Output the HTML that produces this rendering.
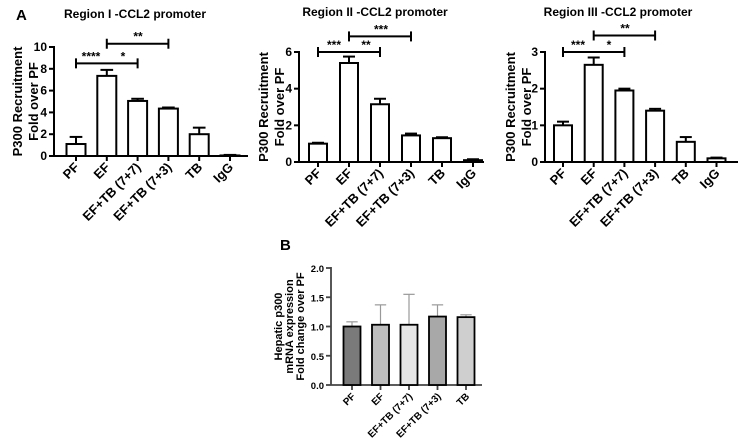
<!DOCTYPE html>
<html><head><meta charset="utf-8">
<style>
body{margin:0;background:#fff;}
svg{display:block;font-family:"Liberation Sans",Arial,sans-serif;font-weight:bold;}
</style></head>
<body>
<svg id="fig" width="743" height="440" viewBox="0 0 743 440"></svg>
<script>
const catsA = ["PF","EF","EF+TB (7+7)","EF+TB (7+3)","TB","IgG"];
const r1Vals = [1.1,7.35,5.05,4.35,2.0,0.05];
const r1Errs = [1.75,7.9,5.25,4.45,2.6,0.1];
const r1Ticks = [0,2,4,6,8,10];
const r2Vals = [1.0,5.4,3.15,1.45,1.3,0.1];
const r2Errs = [1.05,5.75,3.45,1.55,1.35,0.15];
const r2Ticks = [0,2,4,6];
const r3Vals = [1.0,2.65,1.95,1.4,0.55,0.1];
const r3Errs = [1.1,2.85,2.0,1.45,0.68,0.12];
const r3Ticks = [0,1,2,3];
const catsB = ["PF","EF","EF+TB (7+7)","EF+TB (7+3)","TB"];
const bVals = [1.0,1.03,1.03,1.17,1.16];
const bErrs = [1.08,1.37,1.55,1.37,1.2];
const bTicks = ["0.0","0.5","1.0","1.5","2.0"];
const bColors = ["#7a7a7a","#bdbdbd","#e6e6e6","#a8a8a8","#cfcfcf"];

const NS="http://www.w3.org/2000/svg";
const svg=document.getElementById('fig');
function mk(tag,attrs,parent,txt){const e=document.createElementNS(NS,tag);for(const k in attrs)e.setAttribute(k,attrs[k]);if(txt!==undefined)e.textContent=txt;(parent||svg).appendChild(e);return e;}

function panel(o){
  const g=mk('g',{});
  
  
  const y=v=>o.y0-(v-o.tmin)/(o.tmax-o.tmin)*(o.y0-o.y1);
  const x=i=>o.x0+i*o.step;
  const sw=o.sw||2;
  if(o.title){const t=mk('text',{x:o.tx,y:o.ty,'text-anchor':'middle','font-size':12},g,o.title);
    }
  const yt=mk('text',{transform:`translate(${o.ytx},${(o.y0+o.y1)/2}) rotate(-90)`,'text-anchor':'middle','font-size':o.ytfs||13},g);
  
  o.ytitle.forEach((l,i)=>mk('tspan',{x:0,dy:i?o.ytlh:0},yt,l));
  const ax=mk('line',{x1:o.ax,y1:o.y1-1,x2:o.ax,y2:o.y0,stroke:o.axc||'#000','stroke-width':sw},g);
  
  const xa=mk('line',{x1:o.ax,y1:o.y0,x2:o.axEnd,y2:o.y0,stroke:o.axc||'#000','stroke-width':sw},g);
  
  o.ticks.forEach(tv=>{const v=parseFloat(tv);
    mk('line',{x1:o.ax-5,y1:y(v),x2:o.ax,y2:y(v),stroke:o.axc||'#000','stroke-width':sw},g);
    const tl=mk('text',{x:o.ax-7,y:y(v)+4,'text-anchor':'end','font-size':o.tfs||12,fill:o.tc||'#000'},g,tv);
    });
  o.cats.forEach((c,i)=>{
    const cx=x(i);
    mk('line',{x1:cx,y1:o.y0,x2:cx,y2:o.y0+5,stroke:o.axc||'#000','stroke-width':sw},g);
    const tl=mk('text',{transform:`translate(${cx+4},${o.y0+12}) rotate(-45)`,'text-anchor':'end','font-size':o.xfs||13},g,c);
    
    const ec=o.errc||'#000';
    mk('line',{x1:cx,y1:y(o.vals[i]),x2:cx,y2:y(o.errs[i]),stroke:ec,'stroke-width':o.errw||2},g);
    mk('line',{x1:cx-o.bw/3,y1:y(o.errs[i]),x2:cx+o.bw/3,y2:y(o.errs[i]),stroke:ec,'stroke-width':o.errw||2},g);
    const b=mk('rect',{x:cx-o.bw/2,y:y(o.vals[i]),width:o.bw,height:Math.max(0.5,o.y0-y(o.vals[i])),fill:o.colors?o.colors[i]:'#fff',stroke:'#000','stroke-width':sw},g);
    
    
  });
  (o.sig||[]).forEach(s=>{
    const yy=y(s.v), xa1=x(s.a), xb=x(s.b);
    mk('line',{x1:xa1,y1:yy,x2:xb,y2:yy,stroke:'#000','stroke-width':2},g);
    mk('line',{x1:xa1,y1:yy-5,x2:xa1,y2:yy+5,stroke:'#000','stroke-width':2},g);
    mk('line',{x1:xb,y1:yy-5,x2:xb,y2:yy+5,stroke:'#000','stroke-width':2},g);
    s.labels.forEach(l=>{const t=mk('text',{x:l.x,y:yy-3,'text-anchor':'middle','font-size':12},g,l.t);
      });
  });
  return g;
}

const A=mk('text',{x:16,y:20,'font-size':15},svg,'A');

const B=mk('text',{x:280,y:250,'font-size':15},svg,'B');


panel({name:'region-1-chart',title:'Region I -CCL2 promoter',tx:135,ty:18,ytitle:['P300 Recruitment','Fold over PF'],ytx:22,ytlh:16,
  ax:54,axEnd:248,y0:156,y1:47,tmin:0,tmax:10,x0:76,step:30.8,bw:19,cats:catsA,vals:r1Vals,errs:r1Errs,ticks:r1Ticks.map(String),
  sig:[{a:0,b:2,v:8.5,labels:[{x:91,t:'****'},{x:123,t:'*'}]},{a:1,b:3,v:10.3,labels:[{x:138,t:'**'}]}]});
panel({name:'region-2-chart',title:'Region II -CCL2 promoter',tx:375,ty:16,ytitle:['P300 Recruitment','Fold over PF'],ytx:268,ytlh:16,
  ax:299,axEnd:484,y0:162,y1:52,tmin:0,tmax:6,x0:318,step:31,bw:18,cats:catsA,vals:r2Vals,errs:r2Errs,ticks:r2Ticks.map(String),
  sig:[{a:0,b:2,v:6,labels:[{x:334,t:'***'},{x:366,t:'**'}]},{a:1,b:3,v:6.85,labels:[{x:381,t:'***'}]}]});
panel({name:'region-3-chart',title:'Region III -CCL2 promoter',tx:618,ty:16,ytitle:['P300 Recruitment','Fold over PF'],ytx:515,ytlh:16,
  ax:545,axEnd:738,y0:162,y1:52,tmin:0,tmax:3,x0:563,step:30.7,bw:18,cats:catsA,vals:r3Vals,errs:r3Errs,ticks:r3Ticks.map(String),
  sig:[{a:0,b:2,v:3,labels:[{x:578,t:'***'},{x:609,t:'*'}]},{a:1,b:3,v:3.45,labels:[{x:625,t:'**'}]}]});
panel({name:'hepatic-p300-chart',ytitle:['Hepatic p300','mRNA expression','Fold change over PF'],ytx:282,ytlh:11,ytfs:11,
  ax:331,axEnd:482,y0:385,y1:268,tmin:0,tmax:2,x0:352,step:28.5,bw:17,cats:catsB,vals:bVals,errs:bErrs,ticks:bTicks,
  colors:bColors,errc:'#999',errw:1.2,axc:'#444',tfs:9.5,xfs:10,sw:1.8});
</script>
</body></html>
